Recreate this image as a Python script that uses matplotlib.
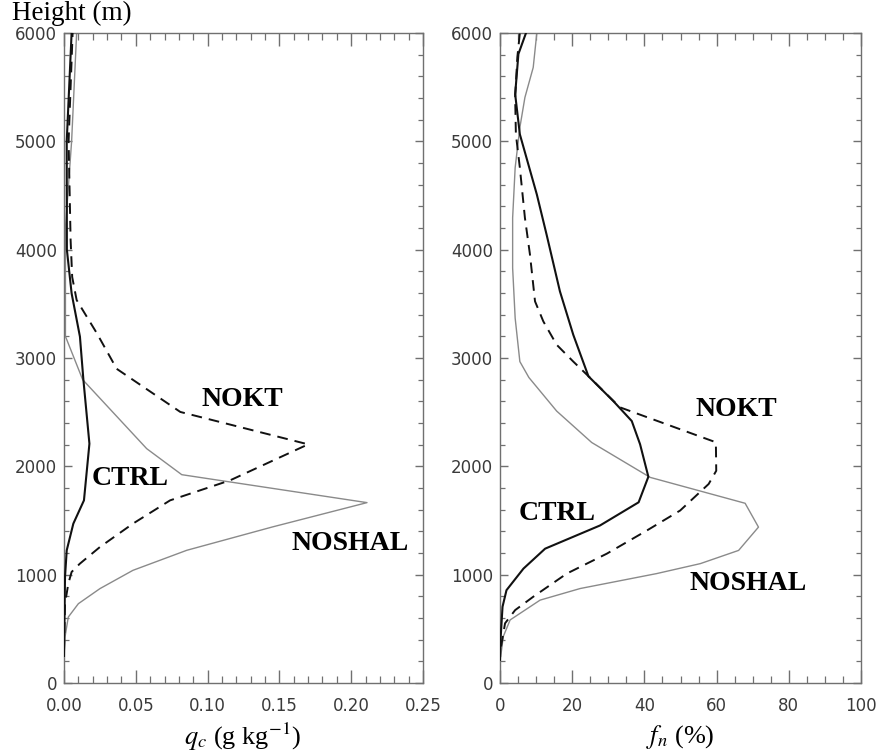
import matplotlib
matplotlib.use("Agg")
import matplotlib.pyplot as plt
from matplotlib.ticker import MultipleLocator, FormatStrFormatter

# ---------------- data ----------------
# Left panel: cloud water q_c (g/kg) vs height (m)
ctrl_q_h = [250, 978, 1225, 1471, 1686, 2209, 2800, 3197, 3597, 4000, 5000, 6000]
ctrl_q = [0.0, 0.0007, 0.0019, 0.0065, 0.0139, 0.0177, 0.0135, 0.0111, 0.0053, 0.002, 0.0019, 0.0053]

nokt_q_h = [300, 732, 917, 1025, 1101, 1255, 1471, 1686, 1871, 2203, 2502, 2900, 3230, 3535, 3748, 4090, 5000, 6000]
nokt_q = [0.0, 0.0007, 0.003, 0.0053, 0.011, 0.025, 0.048, 0.0739, 0.1157, 0.170, 0.081, 0.0367, 0.0228, 0.0088, 0.0057, 0.0046, 0.0032, 0.006]

noshal_q_h = [240, 425, 609, 732, 871, 1040, 1225, 1440, 1665, 1923, 2163, 2800, 3200, 4200, 5000, 6000]
noshal_q = [0.0, 0.0007, 0.003, 0.010, 0.025, 0.048, 0.0855, 0.145, 0.211, 0.082, 0.0576, 0.013, 0.001, 0.001, 0.0053, 0.0088]

# Right panel: cloud fraction f_n (%) vs height (m)
ctrl_f_h = [214, 428, 704, 857, 1056, 1240, 1454, 1668, 1904, 2204, 2418, 2602, 2831, 3214, 3615, 4140, 4510, 5065, 5435, 5806, 6000]
ctrl_f = [0.0, 0.2, 0.7, 1.8, 6.5, 12.5, 27.7, 38.4, 41.1, 38.8, 36.5, 31.4, 24.5, 20.3, 16.6, 12.9, 10.2, 5.5, 4.2, 5.1, 7.2]

nokt_f_h = [337, 551, 673, 796, 1010, 1194, 1408, 1592, 1837, 1959, 2222, 2545, 2816, 2967, 3122, 3338, 3523, 3955, 4294, 4757, 5065, 5405, 5775, 6000]
nokt_f = [0.3, 1.4, 4.2, 9.2, 18.5, 29.6, 40.7, 49.9, 57.8, 59.9, 59.8, 33.2, 25.0, 20.3, 15.7, 12.0, 9.7, 8.3, 6.9, 5.5, 4.4, 4.2, 4.8, 5.5]

noshal_f_h = [245, 428, 582, 765, 872, 1010, 1102, 1224, 1439, 1659, 1898, 2220, 2510, 2820, 2967, 3368, 3831, 4294, 4757, 5127, 5405, 5682, 6000]
noshal_f = [0.2, 0.9, 2.8, 11.1, 22.2, 43.4, 55.5, 66.1, 71.6, 67.9, 41.6, 25.4, 15.7, 8.0, 5.5, 4.2, 3.5, 3.5, 4.2, 5.5, 6.9, 9.2, 10.2]

labels = ["NOKT", "CTRL", "NOSHAL"]
left_label_pos = [(0.124, 2618), (0.046, 1892), (0.199, 1292)]
right_label_pos = [(65.4, 2522), (15.8, 1569), (68.7, 914)]

# ---------------- style ----------------
BLACK = "#111111"
GRAY = "#8a8a8a"
SPINE = "#707070"
TICKLBL = "#3a3a3a"
serif = ["Liberation Serif", "DejaVu Serif"]

fig = plt.figure(figsize=(8.8, 7.53), dpi=100)
axL = fig.add_axes([64 / 880, 70 / 753, 359 / 880, 650 / 753])
axR = fig.add_axes([500 / 880, 70 / 753, 361 / 880, 650 / 753])

dash = (0, (5.5, 3.6))

def draw(ax, c_h, c_x, k_h, k_x, n_h, n_x):
    ax.plot(n_x, n_h, color=GRAY, lw=1.0, zorder=2)
    ax.plot(k_x, k_h, color=BLACK, lw=1.4, linestyle=dash, zorder=3)
    ax.plot(c_x, c_h, color=BLACK, lw=1.5, zorder=4)

draw(axL, ctrl_q_h, ctrl_q, nokt_q_h, nokt_q, noshal_q_h, noshal_q)
draw(axR, ctrl_f_h, ctrl_f, nokt_f_h, nokt_f, noshal_f_h, noshal_f)

for ax in (axL, axR):
    ax.set_ylim(0, 6000)
    ax.yaxis.set_major_locator(MultipleLocator(1000))
    ax.yaxis.set_minor_locator(MultipleLocator(200))
    for s in ax.spines.values():
        s.set_color(SPINE)
        s.set_linewidth(1.0)
    ax.tick_params(axis="both", which="both", direction="in", color=SPINE,
                   top=True, right=True, labelcolor=TICKLBL, labelsize=12)
    ax.tick_params(axis="x", which="major", length=9.5, width=1.0, pad=10)
    ax.tick_params(axis="x", which="minor", length=5, width=0.9)
    ax.tick_params(axis="y", which="major", length=6, width=1.0, pad=5)
    ax.tick_params(axis="y", which="minor", length=3.5, width=0.9)

axL.set_xlim(0, 0.25)
axL.xaxis.set_major_locator(MultipleLocator(0.05))
axL.xaxis.set_minor_locator(MultipleLocator(0.01))
axL.xaxis.set_major_formatter(FormatStrFormatter("%.2f"))

axR.set_xlim(0, 100)
axR.xaxis.set_major_locator(MultipleLocator(20))
axR.xaxis.set_minor_locator(MultipleLocator(5))

for lab, (x, y) in zip(labels, left_label_pos):
    axL.text(x, y, lab, ha="center", va="center", fontsize=20,
             fontweight="bold", family=serif, color="black")
for lab, (x, y) in zip(labels, right_label_pos):
    axR.text(x, y, lab, ha="center", va="center", fontsize=20,
             fontweight="bold", family=serif, color="black")

fig.text(12 / 880, 1 - 20 / 753, "Height (m)", ha="left", va="baseline",
         fontsize=19.5, family=serif)
fig.text(243 / 880, 1 - 737 / 753, r"$q_c$ (g kg$^{\mathrm{-1}}$)", ha="center",
         va="center", fontsize=19, family=serif, math_fontfamily="stix")
fig.text(680 / 880, 1 - 737 / 753, r"$f_n$ (%)", ha="center", va="center",
         fontsize=19, family=serif, math_fontfamily="stix")

fig.savefig("out.png", dpi=100, facecolor="white")
